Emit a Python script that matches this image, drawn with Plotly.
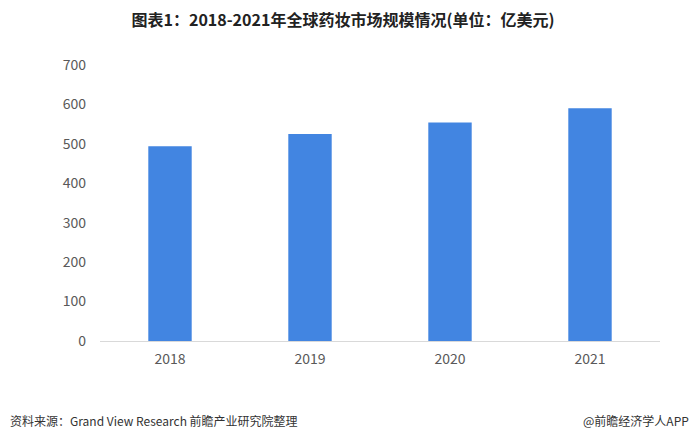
import plotly.graph_objects as go

years = ["2018", "2019", "2020", "2021"]
market_size = [494, 525, 554, 590]
y_ticks = [0, 100, 200, 300, 400, 500, 600, 700]

title_text = "图表1：2018-2021年全球药妆市场规模情况(单位：亿美元)"
source_text = "资料来源：Grand View Research 前瞻产业研究院整理"
brand_text = "@前瞻经济学人APP"

font_cjk = "Noto Sans CJK SC"

# the page body adds an 8px margin on every side, keep the figure inside the window
W, H = 684, 424
ml, mr, mt, mb = 92, 32, 57, 91
pw, ph = W - ml - mr, H - mt - mb

fig = go.Figure()
fig.add_trace(go.Bar(x=years, y=market_size, marker_color="#4285e1",
                     marker_line_width=0))

fig.update_layout(
    width=W, height=H,
    margin=dict(l=ml, r=mr, t=mt, b=mb),
    paper_bgcolor="white", plot_bgcolor="white",
    bargap=0.69,
    showlegend=False,
    font=dict(family=font_cjk, color="#595959", size=14),
    title=dict(text="<b>" + title_text + "</b>", x=335 / W, xanchor="center",
               y=1 - 12 / H, yanchor="middle",
               font=dict(family=font_cjk, size=16, color="#222222")),
)
fig.update_xaxes(showgrid=False, showline=True, linecolor="#d9d9d9",
                 linewidth=1, ticks="", ticklabelstandoff=5,
                 tickfont=dict(size=14))
fig.update_yaxes(range=[0, 700], tickvals=y_ticks, showgrid=False,
                 zeroline=False, showline=False, ticks="", ticklen=0,
                 ticklabelstandoff=13, tickfont=dict(size=14))

# footer texts
fig.add_annotation(text=source_text, xref="paper", yref="paper",
                   x=-ml / pw, y=-79 / ph, xanchor="left", yanchor="middle",
                   showarrow=False, font=dict(size=12, color="#333333"))
fig.add_annotation(text=brand_text, xref="paper", yref="paper",
                   x=1 + 31 / pw, y=-79 / ph, xanchor="right", yanchor="middle",
                   showarrow=False, font=dict(size=12, color="#333333"))

fig.write_html("out.html")
